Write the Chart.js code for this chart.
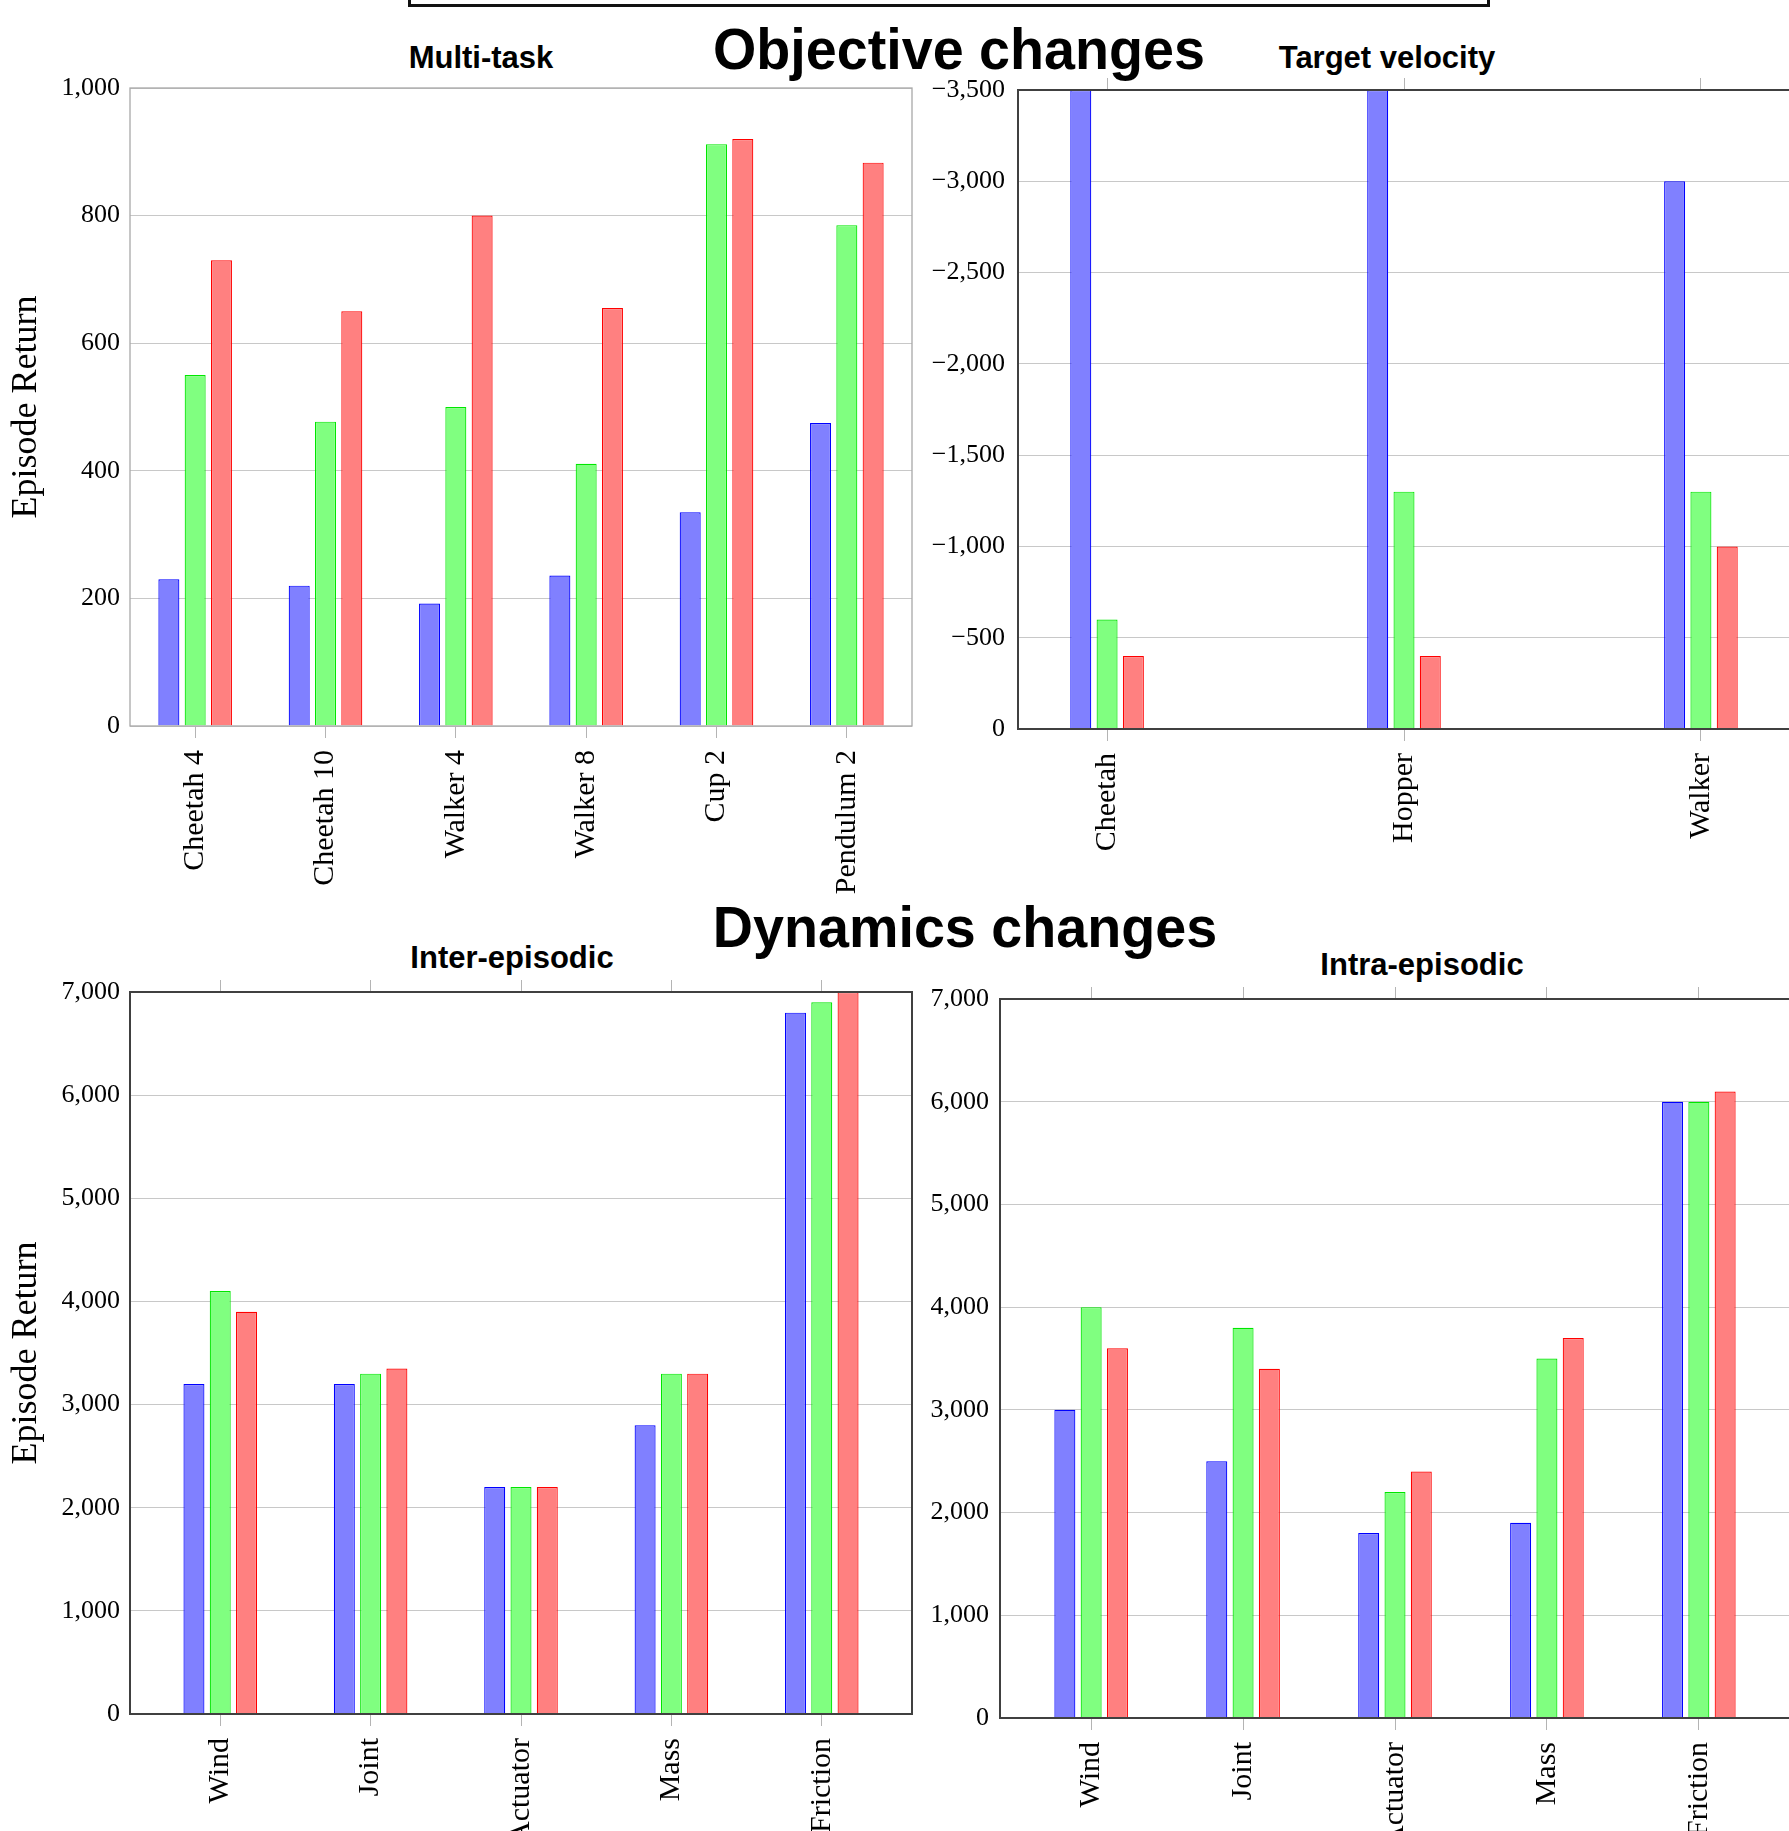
<!DOCTYPE html>
<html>
<head>
<meta charset="utf-8">
<title>Episode return by task</title>
<script src="https://cdn.jsdelivr.net/npm/chart.js@4.4.0/dist/chart.umd.min.js"></script>
<style>
  html, body { margin: 0; padding: 0; background: #fff; }
  #page { position: relative; width: 1789px; height: 1831px; overflow: hidden; background: #fff; }
  #page canvas { position: absolute; }
  .big {
    position: absolute; white-space: nowrap; line-height: 1;
    font-family: "Liberation Sans", Arial, sans-serif; font-weight: bold; font-size: 58px;
    transform: translateX(-50%) scaleX(0.96);
  }
  .sub {
    position: absolute; white-space: nowrap; line-height: 1;
    font-family: "Liberation Sans", Arial, sans-serif; font-weight: bold; font-size: 31px;
    transform: translateX(-50%);
  }
  #box { position: absolute; left: 408px; top: -30px; width: 1082px; height: 37px; box-sizing: border-box; border: 3px solid #111; }
</style>
</head>
<body>
<div id="page">
  <div id="box"></div>
  <div class="big" style="left:959px; top:20px;">Objective changes</div>
  <div class="big" style="left:965px; top:898px;">Dynamics changes</div>
  <div class="sub" style="left:481px; top:42px;">Multi-task</div>
  <div class="sub" style="left:1387px; top:42px;">Target velocity</div>
  <div class="sub" style="left:512px; top:942px;">Inter-episodic</div>
  <div class="sub" style="left:1422px; top:949px;">Intra-episodic</div>
</div>
<script>
// --- data ---
const multiLabels = ['Cheetah 4', 'Cheetah 10', 'Walker 4', 'Walker 8', 'Cup 2', 'Pendulum 2'];
const multiBlue = [230, 220, 192, 236, 335, 475];
const multiGreen = [550, 477, 500, 411, 912, 785];
const multiRed = [730, 650, 800, 655, 920, 883];
const multiRange = [0, 1000, 200];

const velLabels = ['Cheetah', 'Hopper', 'Walker'];
const velBlue = [-3500, -3500, -3000];
const velGreen = [-600, -1300, -1300];
const velRed = [-400, -400, -1000];
const velRange = [-3500, 0, 500];

const dynLabels = ['Wind', 'Joint', 'Actuator', 'Mass', 'Friction'];
const interBlue = [3200, 3200, 2200, 2800, 6800];
const interGreen = [4100, 3300, 2200, 3300, 6900];
const interRed = [3900, 3350, 2200, 3300, 7000];
const intraBlue = [3000, 2500, 1800, 1900, 6000];
const intraGreen = [4000, 3800, 2200, 3500, 6000];
const intraRed = [3600, 3400, 2400, 3700, 6100];
const dynRange = [0, 7000, 1000];

const yTitle = 'Episode Return';

// --- look ---
Chart.defaults.font.family = '"Liberation Serif", "Times New Roman", serif';
Chart.defaults.color = '#000';

const colors = [
  { fill: '#8080ff', line: '#0000ff' },
  { fill: '#80ff80', line: '#00e600' },
  { fill: '#ff8080', line: '#ff0000' }
];
const BAR_W = 21;
const BAR_PITCH = 26.3;
const TICK = 12;

const framePlugin = {
  id: 'frame',
  afterDatasetsDraw(chart, args, opts) {
    const { ctx, chartArea: a } = chart;
    ctx.save();
    ctx.strokeStyle = opts.color;
    ctx.lineWidth = opts.width;
    ctx.strokeRect(a.left, a.top, a.right - a.left, a.bottom - a.top);
    ctx.restore();
  }
};

const fmt = v => Number(v).toLocaleString('en-US').replace('-', '\u2212');

function panel(p) {
  const page = document.getElementById('page');
  const n = p.labels.length;
  const min = -p.pad, max = n - 1 + p.pad;
  const topH = p.topAxis ? TICK : 0;
  const left = p.area.L - p.yW;
  const top = p.area.T - p.padTop - topH;
  const cv = document.createElement('canvas');
  cv.width = p.area.R - p.area.L + p.yW + p.padRight;
  cv.height = p.area.B - top + p.xH;
  cv.style.left = left + 'px';
  cv.style.top = top + 'px';
  page.appendChild(cv);

  const spacing = (p.area.R - p.area.L) / (max - min);
  const catPct = 3 * BAR_PITCH / spacing;
  const catTicks = s => { s.ticks = p.labels.map((_, i) => ({ value: i })); };

  const scales = {
    x: {
      type: 'linear', min, max, offset: false,
      afterBuildTicks: catTicks,
      afterFit: s => { s.height = p.xH; },
      grid: { offset: false, drawOnChartArea: false, tickLength: TICK, color: '#b4b4b4' },
      border: { display: false },
      ticks: {
        autoSkip: false, minRotation: 90, maxRotation: 90, padding: 12,
        font: { size: 30 }, callback: v => p.labels[v]
      }
    },
    y: {
      min: p.range[0], max: p.range[1], reverse: !!p.reverse,
      afterFit: s => { s.width = p.yW; },
      grid: { drawTicks: false, color: '#c8c8c8' },
      border: { display: false },
      ticks: { stepSize: p.range[2], padding: p.yPad, font: { size: 26 }, callback: fmt },
      title: {
        display: !!p.yTitle, text: p.yTitle || '',
        font: { size: 36 }, padding: { top: 5, bottom: 0 }
      }
    }
  };
  if (p.topAxis) {
    scales.x2 = {
      type: 'linear', position: 'top', min, max, offset: false,
      afterBuildTicks: catTicks,
      afterFit: s => { s.height = TICK; },
      grid: { offset: false, drawOnChartArea: false, tickLength: TICK, color: '#b4b4b4' },
      border: { display: false },
      ticks: { display: false }
    };
  }

  return new Chart(cv.getContext('2d'), {
    type: 'bar',
    data: {
      datasets: p.series.map((vals, k) => ({
        data: vals.map((v, i) => ({ x: i, y: v })),
        backgroundColor: colors[k].fill,
        borderColor: colors[k].line,
        borderWidth: 1.2,
        borderSkipped: 'start',
        categoryPercentage: catPct,
        barPercentage: BAR_W / BAR_PITCH
      }))
    },
    options: {
      responsive: false,
      animation: false,
      devicePixelRatio: 1,
      layout: { padding: { top: p.padTop, right: p.padRight, bottom: 0, left: 0 } },
      plugins: {
        legend: { display: false },
        tooltip: { enabled: false },
        frame: { color: p.frame, width: p.frameW }
      },
      scales
    },
    plugins: [framePlugin]
  });
}

panel({
  labels: multiLabels, series: [multiBlue, multiGreen, multiRed], range: multiRange,
  area: { L: 130, T: 88, R: 912, B: 726 }, pad: 0.5,
  yW: 130, yPad: 10, padTop: 40, padRight: 20, xH: 200, topAxis: false,
  yTitle: yTitle, frame: '#a8a8a8', frameW: 1.3
});

panel({
  labels: velLabels, series: [velBlue, velGreen, velRed], range: velRange, reverse: true,
  area: { L: 1018, T: 90, R: 1790, B: 729 }, pad: 0.3,
  yW: 100, yPad: 13, padTop: 30, padRight: 20, xH: 200, topAxis: true,
  frame: '#404040', frameW: 2
});

panel({
  labels: dynLabels, series: [interBlue, interGreen, interRed], range: dynRange,
  area: { L: 130, T: 992, R: 912.5, B: 1714 }, pad: 0.6,
  yW: 130, yPad: 10, padTop: 30, padRight: 20, xH: 200, topAxis: true,
  yTitle: yTitle, frame: '#404040', frameW: 2
});

panel({
  labels: dynLabels, series: [intraBlue, intraGreen, intraRed], range: dynRange,
  area: { L: 1000, T: 999, R: 1790, B: 1718 }, pad: 0.6,
  yW: 100, yPad: 11, padTop: 30, padRight: 20, xH: 200, topAxis: true,
  frame: '#404040', frameW: 2
});
</script>
</body>
</html>
